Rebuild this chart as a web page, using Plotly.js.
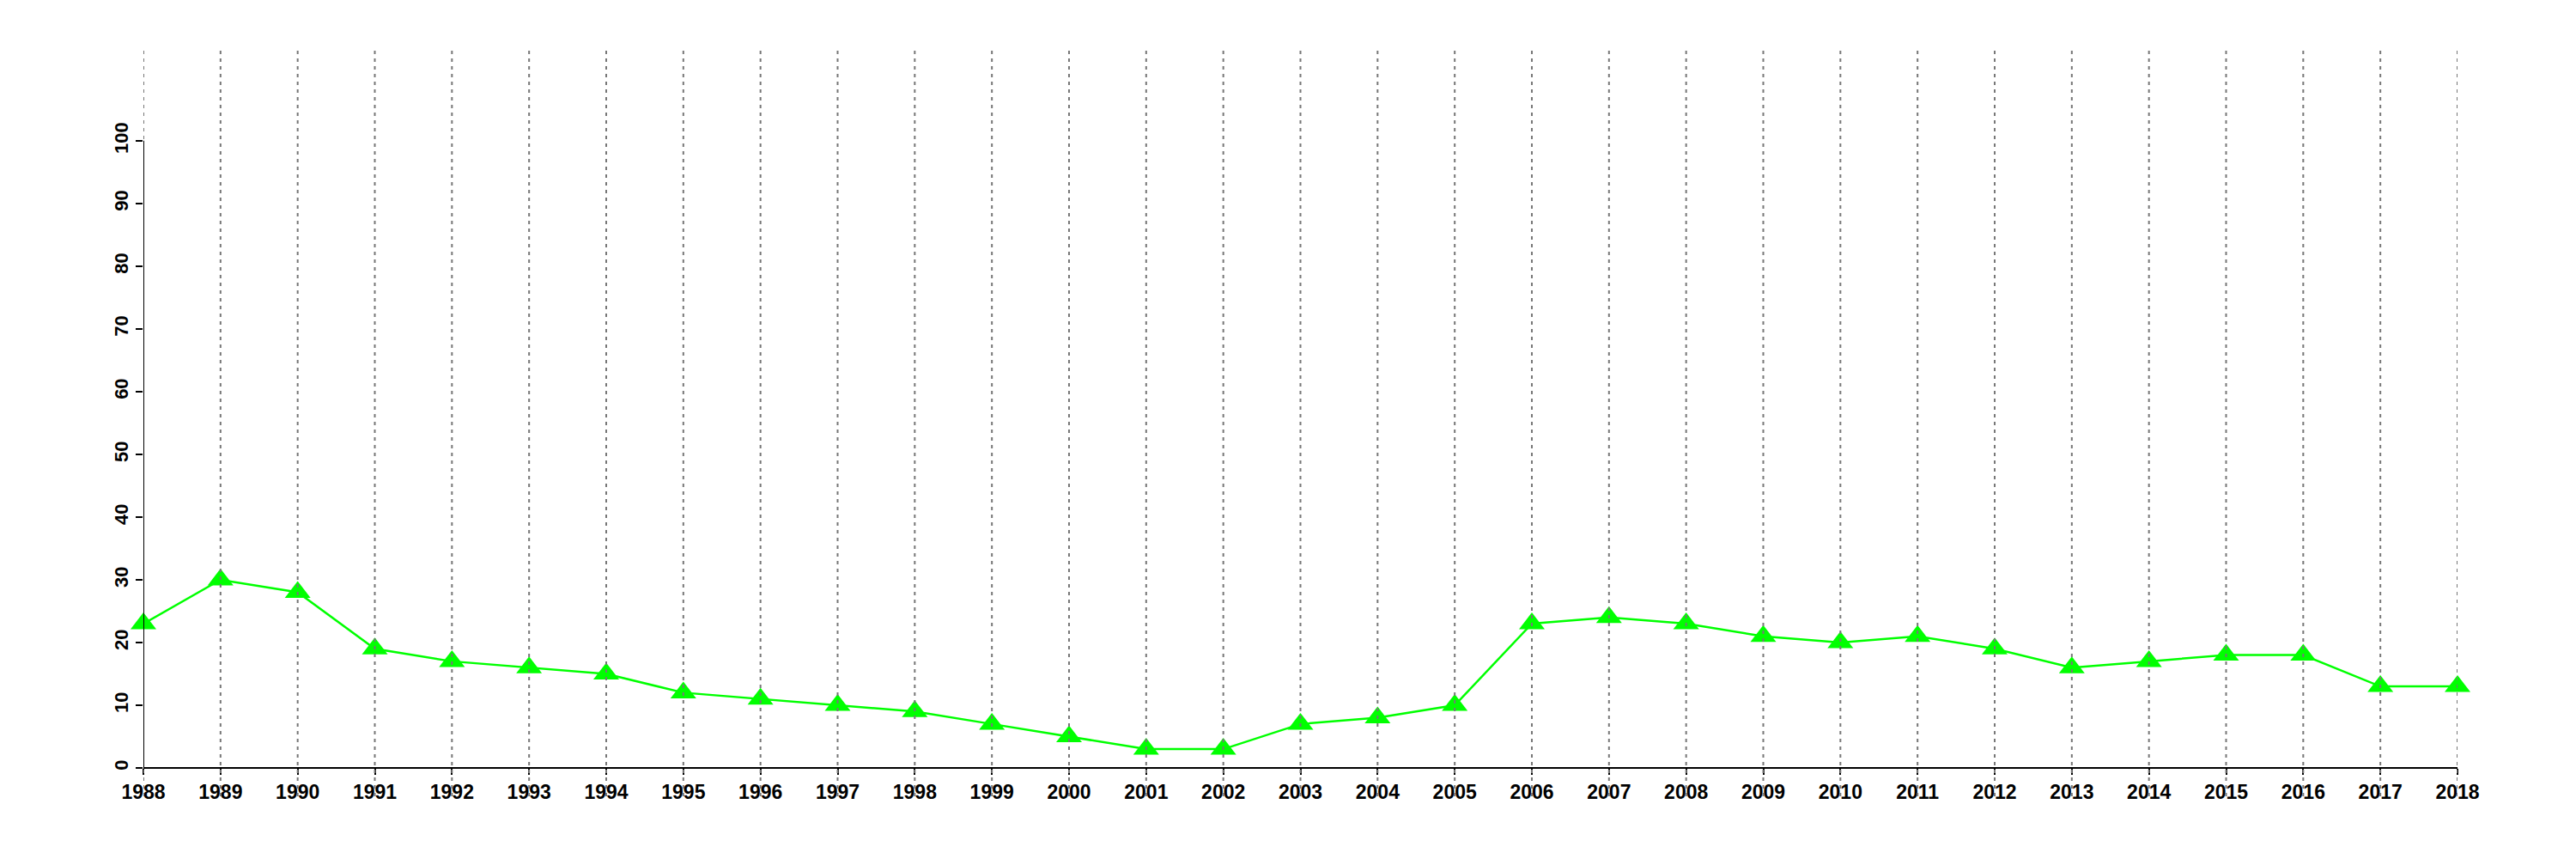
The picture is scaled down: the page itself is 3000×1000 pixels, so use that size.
<!DOCTYPE html>
<html>
<head>
<meta charset="utf-8">
<script src="https://cdn.plot.ly/plotly-3.0.1.min.js"></script>
<style>html,body{margin:0;padding:0;background:#fff;}</style>
</head>
<body>
<div id="chart" style="width:3000px;height:1000px;"></div>
<script>
const years = [1988,1989,1990,1991,1992,1993,1994,1995,1996,1997,1998,1999,2000,2001,2002,2003,2004,2005,2006,2007,2008,2009,2010,2011,2012,2013,2014,2015,2016,2017,2018];
const values = [23,30,28,19,17,16,15,12,11,10,9,7,5,3,3,7,8,10,23,24,23,21,20,21,19,16,17,18,18,13,13];
const yTicks = [0,10,20,30,40,50,60,70,80,90,100];

const fontFam = '"Liberation Sans", Arial, Helvetica, sans-serif';

const trace = {
  x: years,
  y: values,
  type: 'scatter',
  mode: 'lines+markers',
  line: {color: '#00FF00', width: 2.5},
  marker: {symbol: 'triangle-up', size: 26, color: '#00FF00', line: {width: 0}},
  cliponaxis: false,
  hoverinfo: 'skip'
};

const shapes = years.map(yr => ({
  type: 'line', xref: 'x', yref: 'paper',
  x0: yr, x1: yr, y0: 0, y1: 1,
  line: {color: '#777777', width: 2, dash: '4px,5px'},
  layer: 'above'
}));
shapes.push({
  type: 'line', xref: 'x', yref: 'y',
  x0: years[0], x1: years[0], y0: yTicks[0], y1: yTicks[yTicks.length-1],
  line: {color: '#000', width: 2},
  layer: 'above'
});

const layout = {
  width: 3000,
  height: 1000,
  paper_bgcolor: '#fff',
  plot_bgcolor: '#fff',
  showlegend: false,
  margin: {l: 167, r: 138, t: 58, b: 73, pad: 0},
  xaxis: {
    range: [years[0], years[years.length-1]],
    anchor: 'free',
    position: 0.038,
    tickmode: 'array',
    tickvals: years,
    ticktext: years.map(String),
    ticks: 'outside',
    ticklen: 7,
    tickwidth: 2,
    tickcolor: '#000',
    showline: true,
    linecolor: '#000',
    linewidth: 2,
    showgrid: false,
    zeroline: false,
    tickangle: 0,
    tickfont: {family: fontFam, size: 23, color: '#000', weight: 'bold'}
  },
  yaxis: {
    range: [-4.52, 114.5],
    tickmode: 'array',
    tickvals: yTicks,
    ticktext: yTicks.map(String),
    ticks: 'outside',
    ticklen: 8,
    tickwidth: 2,
    tickcolor: '#000',
    showline: false,
    showgrid: false,
    zeroline: false,
    tickangle: -90,
    tickfont: {family: fontFam, size: 22, color: '#000', weight: 'bold'}
  },
  shapes: shapes
};

Plotly.newPlot('chart', [trace], layout, {staticPlot: true, displayModeBar: false});
</script>
</body>
</html>
